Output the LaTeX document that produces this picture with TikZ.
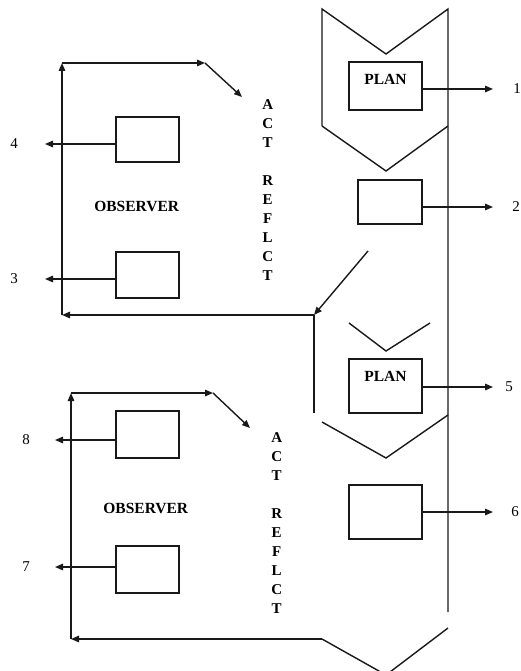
\documentclass[tikz,border=0pt]{standalone}
\usepackage{fontspec}
\setmainfont{Liberation Serif}
\usetikzlibrary{arrows.meta}

\tikzset{
  line/.style={draw=black!90, line width=1.4pt},
  arr/.style={line, -{Triangle[length=8pt,width=6.5pt]}},
  boxst/.style={draw=black!90, line width=1.4pt, minimum width=#1, inner sep=0pt},
  boxst/.default=63pt,
  bold/.style={font=\bfseries\fontsize{15.5}{19}\selectfont, inner sep=0pt},
  num/.style={font=\fontsize{15}{18}\selectfont, inner sep=0pt},
  column/.style={font=\bfseries\fontsize{15}{19}\selectfont, align=center, inner sep=0pt, anchor=north}
}

\begin{document}
\begin{tikzpicture}[x=1pt,y=-1pt]
  \fill[white] (0,0) rectangle (521,671);
  \useasboundingbox (0,0) rectangle (521,671);

  % ---------- right-hand column: chevrons and the long spine ----------
  \draw[line] (322,126) -- (322,9) -- (386,54) -- (448,9) -- (448,612);
  \draw[line] (322,126) -- (386,171) -- (448,126);
  \draw[line] (349,323) -- (386,351) -- (430,323);
  \draw[line] (322,422) -- (386,458) -- (448,415);
  \draw[line] (322,639) -- (386,675) -- (448,628);

  % boxes of the cycle
  \node[boxst=73pt, minimum height=48pt] (plan1) at (385.5,86) {};
  \node[bold] at (385.5,79) {PLAN};
  \node[boxst=64pt, minimum height=44pt] (b2) at (390,202) {};
  \node[boxst=73pt, minimum height=54pt] (plan2) at (385.5,386) {};
  \node[bold] at (385.5,376) {PLAN};
  \node[boxst=73pt, minimum height=54pt] (b6) at (385.5,512) {};

  % numbered outputs on the right
  \node[num] (n1) at (517,89) {1};
  \node[num] (n2) at (516,207) {2};
  \node[num] (n5) at (509,387) {5};
  \node[num] (n6) at (515,512) {6};
  \coordinate (t1) at (493,89);
  \coordinate (t2) at (493,207);
  \coordinate (t5) at (493,387);
  \coordinate (t6) at (493,512);
  \draw[arr] (plan1.east |- t1) -- (t1);
  \draw[arr] (b2.east |- t2) -- (t2);
  \draw[arr] (plan2.east |- t5) -- (t5);
  \draw[arr] (b6.east |- t6) -- (t6);

  % ---------- upper observer loop ----------
  \coordinate (d1) at (368,251);
  \coordinate (k1) at (314,315);
  \coordinate (k2) at (62,315);
  \coordinate (k3) at (62,63);
  \coordinate (k4) at (205,63);
  \coordinate (k5) at (242,97);
  \coordinate (v1) at (314,413);
  \draw[arr] (d1) -- (k1);
  \draw[line] (k1) -- (v1);
  \draw[arr] (k1) -- (k2);
  \draw[arr] (k2) -- (k3);
  \draw[arr] (k3) -- (k4);
  \draw[arr] (k4) -- (k5);

  \node[boxst, minimum height=45pt] (b4) at (147.5,139.5) {};
  \node[boxst, minimum height=46pt] (b3) at (147.5,275) {};
  \node[bold] (obs1) at (136.7,206) {OBSERVER};
  \node[column] (ar1) at (267.7,99) {A\\C\\T\\[19pt]R\\E\\F\\L\\C\\T};

  \node[num] (n4) at (14,144) {4};
  \node[num] (n3) at (14,279) {3};
  \coordinate (t4) at (45,144);
  \coordinate (t3) at (45,279);
  \draw[arr] (b4.west |- t4) -- (t4);
  \draw[arr] (b3.west |- t3) -- (t3);

  % ---------- lower observer loop ----------
  \coordinate (m1) at (322,639);
  \coordinate (m2) at (71,639);
  \coordinate (m3) at (71,393);
  \coordinate (m4) at (213,393);
  \coordinate (m5) at (250,428);
  \draw[arr] (m1) -- (m2);
  \draw[arr] (m2) -- (m3);
  \draw[arr] (m3) -- (m4);
  \draw[arr] (m4) -- (m5);

  \node[boxst, minimum height=47pt] (b8) at (147.5,434.5) {};
  \node[boxst, minimum height=47pt] (b7) at (147.5,569.5) {};
  \node[bold] (obs2) at (145.8,508.3) {OBSERVER};
  \node[column] (ar2) at (276.7,432) {A\\C\\T\\[19pt]R\\E\\F\\L\\C\\T};

  \node[num] (n8) at (26,440) {8};
  \node[num] (n7) at (26,567) {7};
  \coordinate (t8) at (55,440);
  \coordinate (t7) at (55,567);
  \draw[arr] (b8.west |- t8) -- (t8);
  \draw[arr] (b7.west |- t7) -- (t7);
\end{tikzpicture}
\end{document}
